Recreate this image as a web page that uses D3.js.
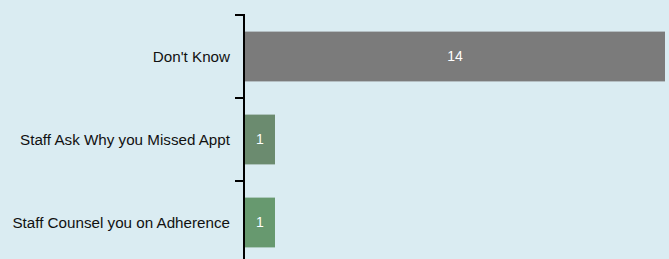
<!DOCTYPE html>
<html>
<head>
<meta charset="utf-8">
<script src="https://cdn.jsdelivr.net/npm/d3@7"></script>
<style>
  html, body { margin: 0; padding: 0; background: #daecf2; overflow: hidden; }
  svg { display: block; }
</style>
</head>
<body>
<svg id="chart" width="669" height="259"></svg>
<script>
const categories = ["Don't Know", "Staff Ask Why you Missed Appt", "Staff Counsel you on Adherence"];
const values = [14, 1, 1];
const colors = ["#7b7b7b", "#6b8b6f", "#67996f"];

const svg = d3.select("#chart");
svg.append("rect").attr("width", 669).attr("height", 259).attr("fill", "#daecf2");

const axisX = 244;
const x = d3.scaleLinear().domain([0, 14]).range([245, 665]);
const y = d3.scaleBand().domain(categories).range([15, 264]).paddingInner(0.4).paddingOuter(0.2);

const data = categories.map((c, i) => ({ c, v: values[i], col: colors[i] }));

svg.selectAll("rect.bar").data(data).enter().append("rect")
  .attr("class", "bar")
  .attr("x", x(0))
  .attr("y", d => y(d.c))
  .attr("width", d => x(d.v) - x(0))
  .attr("height", y.bandwidth())
  .attr("fill", d => d.col);

svg.selectAll("text.val").data(data).enter().append("text")
  .attr("class", "val")
  .attr("x", d => (x(0) + x(d.v)) / 2)
  .attr("y", d => y(d.c) + y.bandwidth() / 2)
  .attr("dy", "0.35em")
  .attr("text-anchor", "middle")
  .attr("fill", "#ffffff")
  .style("font-family", "'Liberation Sans', Arial, sans-serif")
  .style("font-size", "14px")
  .text(d => d.v);

svg.selectAll("text.lab").data(data).enter().append("text")
  .attr("class", "lab")
  .attr("x", 230)
  .attr("y", d => y(d.c) + y.bandwidth() / 2)
  .attr("dy", "0.35em")
  .attr("text-anchor", "end")
  .attr("fill", "#111111")
  .style("font-family", "'Liberation Sans', Arial, sans-serif")
  .style("font-size", "15.2px")
  .text(d => d.c);

// axis line and boundary ticks
const half = y.step() * y.paddingInner() / 2;
const bounds = categories.map(c => y(c) - half).concat([y(categories[2]) + y.bandwidth() + half]);
svg.append("line")
  .attr("x1", axisX).attr("x2", axisX)
  .attr("y1", bounds[0] - 1).attr("y2", bounds[bounds.length - 1])
  .attr("stroke", "#000").attr("stroke-width", 2);
svg.selectAll("line.tick").data(bounds).enter().append("line")
  .attr("class", "tick")
  .attr("x1", axisX - 9).attr("x2", axisX)
  .attr("y1", d => d).attr("y2", d => d)
  .attr("stroke", "#000").attr("stroke-width", 2);
</script>
</body>
</html>
